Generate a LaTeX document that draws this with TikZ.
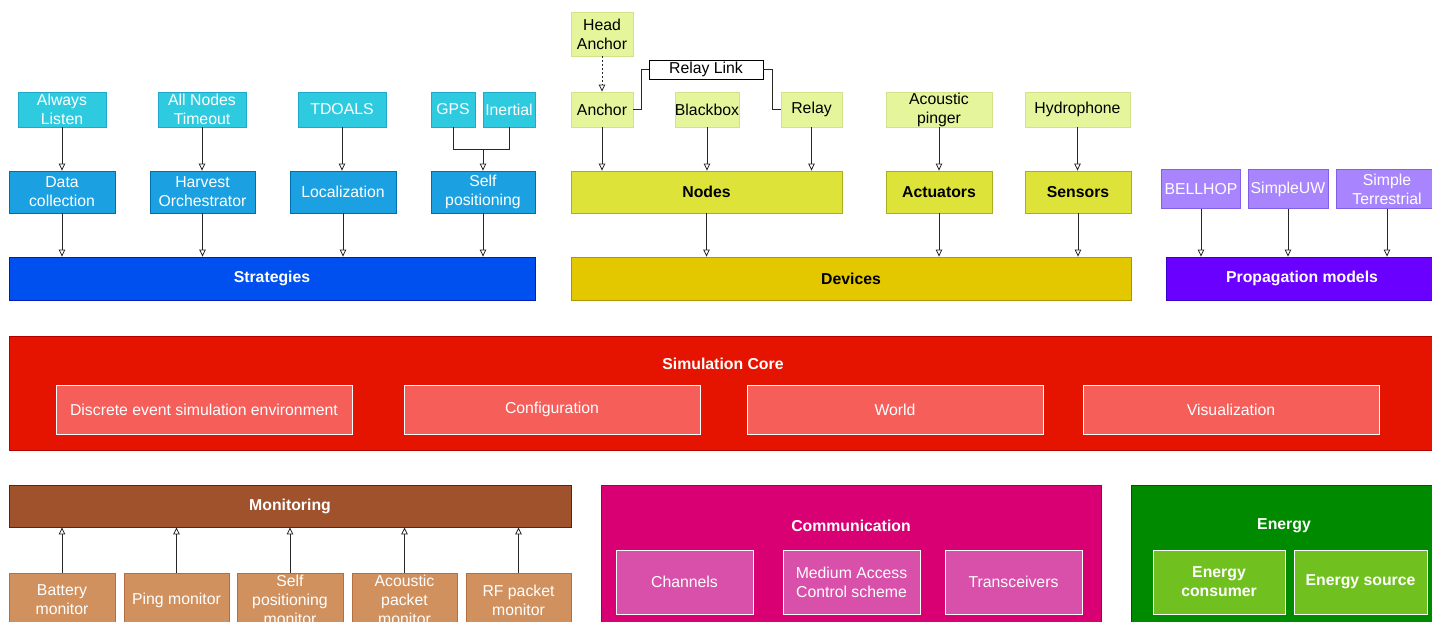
\documentclass[tikz,border=0pt]{standalone}
\usepackage{fontspec}
\setmainfont{Liberation Sans}
\usetikzlibrary{arrows.meta}

\definecolor{cyanl}{RGB}{46,203,224}
\definecolor{cyanb}{RGB}{30,170,200}
\definecolor{bluem}{RGB}{27,161,226}
\definecolor{blueb}{RGB}{0,110,175}
\definecolor{blued}{RGB}{0,80,239}
\definecolor{bluedb}{RGB}{0,29,188}
\definecolor{limel}{RGB}{229,245,155}
\definecolor{limelb}{RGB}{210,225,140}
\definecolor{limem}{RGB}{221,227,56}
\definecolor{limemb}{RGB}{170,175,30}
\definecolor{yeld}{RGB}{227,200,0}
\definecolor{yeldb}{RGB}{176,149,0}
\definecolor{purpl}{RGB}{168,133,255}
\definecolor{purplb}{RGB}{130,95,230}
\definecolor{purpd}{RGB}{106,0,255}
\definecolor{purpdb}{RGB}{55,0,204}
\definecolor{redc}{RGB}{229,20,0}
\definecolor{redcb}{RGB}{178,0,0}
\definecolor{redl}{RGB}{246,94,90}
\definecolor{sienna}{RGB}{160,82,45}
\definecolor{siennab}{RGB}{109,31,0}
\definecolor{tan}{RGB}{208,145,94}
\definecolor{tanb}{RGB}{180,110,64}
\definecolor{magc}{RGB}{216,0,115}
\definecolor{magcb}{RGB}{165,0,64}
\definecolor{magl}{RGB}{216,80,170}
\definecolor{greenc}{RGB}{0,138,0}
\definecolor{greencb}{RGB}{0,87,0}
\definecolor{greenl}{RGB}{112,193,31}

\tikzset{
  box/.style={draw, line width=0.8pt, inner sep=0pt, align=center, font=\fontsize{15.8}{19}\selectfont},
  boldbox/.style={box, font=\fontsize{15.8}{19}\selectfont\bfseries},
  cyanbox/.style={box, fill=cyanl, draw=cyanb, text=white},
  bluebox/.style={box, fill=bluem, draw=blueb, text=white},
  stratbar/.style={boldbox, fill=blued, draw=bluedb, text=white},
  limebox/.style={box, fill=limel, draw=limelb, text=black},
  nodebox/.style={boldbox, fill=limem, draw=limemb, text=black},
  devbar/.style={boldbox, fill=yeld, draw=yeldb, text=black},
  purpbox/.style={box, fill=purpl, draw=purplb, text=white},
  propbar/.style={boldbox, fill=purpd, draw=purpdb, text=white},
  corebox/.style={box, fill=redc, draw=redcb},
  coreitem/.style={box, fill=redl, draw=white, text=white},
  monbar/.style={boldbox, fill=sienna, draw=siennab, text=white},
  monbox/.style={box, fill=tan, draw=tanb, text=white},
  commbox/.style={box, fill=magc, draw=magcb},
  commitem/.style={box, fill=magl, draw=white, text=white},
  enbox/.style={box, fill=greenc, draw=greencb},
  enitem/.style={boldbox, fill=greenl, draw=white, text=white},
  title/.style={font=\fontsize{15.8}{19}\selectfont\bfseries, text=white, inner sep=0pt},
  wire/.style={draw=black!85, line width=0.8pt},
  arr/.style={wire, -{Triangle[open,length=7pt,width=6.5pt]}},
}

\begin{document}
\begin{tikzpicture}[x=1pt, y=-1pt]
		%%%%% START %%%%%
		\useasboundingbox (0,0) rectangle (1432,621);
		\clip (0,0) rectangle (1432,621);
		
		% strategies
		\node[cyanbox, minimum width=88, minimum height=35] (always) at (62,109.5) {Always\\Listen};
		\node[cyanbox, minimum width=88, minimum height=35] (allnodes) at (202,109.5) {All Nodes\\Timeout};
		\node[cyanbox, minimum width=88, minimum height=35] (tdoals) at (342,109.5) {TDOALS};
		\node[cyanbox, minimum width=44, minimum height=35] (gps) at (453,109.5) {GPS};
		\node[cyanbox, minimum width=52, minimum height=35] (inertial) at (509,109.5) {Inertial};
		
		\node[bluebox, minimum width=106, minimum height=42] (datacol) at (62,192) {Data\\collection};
		\node[bluebox, minimum width=105, minimum height=42] (harvest) at (202.5,192) {Harvest\\Orchestrator};
		\node[bluebox, minimum width=106, minimum height=42] (local) at (343,192) {Localization};
		\node[bluebox, minimum width=104, minimum height=42] (selfpos) at (483,192) {Self\\positioning};
		
		\node[stratbar, minimum width=526, minimum height=43] (strategies) at (272,278.5) {Strategies};
		
		\coordinate (gpsjoin) at (483,149);
		\draw[arr] (always) -- (always |- datacol.north);
		\draw[arr] (allnodes) -- (allnodes |- harvest.north);
		\draw[arr] (tdoals) -- (tdoals |- local.north);
		\draw[wire] (gps) |- (gpsjoin);
		\draw[wire] (inertial) |- (gpsjoin);
		\draw[arr] (gpsjoin) -- (selfpos);
		\draw[arr] (datacol) -- (datacol |- strategies.north);
		\draw[arr] (harvest) -- (harvest |- strategies.north);
		\draw[arr] (local) -- (local |- strategies.north);
		\draw[arr] (selfpos) -- (selfpos |- strategies.north);
		
		% devices
		\node[limebox, minimum width=62, minimum height=44] (headanchor) at (602,34) {Head\\Anchor};
		\node[limebox, minimum width=62, minimum height=35] (anchor) at (602,109.5) {Anchor};
		\node[box, fill=white, draw=black, minimum width=114, minimum height=19] (relaylink) at (706,69.5) {Relay Link};
		\node[limebox, minimum width=62, minimum height=35] (blackbox) at (707,109.5) {Blackbox};
		\node[limebox, minimum width=61, minimum height=35] (relay) at (811.5,109.5) {Relay};
		\node[limebox, minimum width=106, minimum height=35] (pinger) at (939,109.5) {Acoustic\\pinger};
		\node[limebox, minimum width=105, minimum height=35] (hydro) at (1077.5,109.5) {Hydrophone};
		
		\node[nodebox, minimum width=271, minimum height=42] (nodes) at (706.5,192) {Nodes};
		\node[nodebox, minimum width=106, minimum height=42] (actuators) at (939,192) {Actuators};
		\node[nodebox, minimum width=106, minimum height=42] (sensors) at (1078,192) {Sensors};
		
		\node[devbar, minimum width=560, minimum height=43] (devices) at (851,278.5) {Devices};
		
		\draw[arr, dash pattern=on 2pt off 2pt] (headanchor) -- (anchor);
		\draw[wire] (anchor.east) -- ++(8,0) |- (relaylink.west);
		\draw[wire] (relaylink.east) -- ++(9,0) |- (relay.west);
		\draw[arr] (anchor) -- (anchor |- nodes.north);
		\draw[arr] (blackbox) -- (blackbox |- nodes.north);
		\draw[arr] (relay) -- (relay |- nodes.north);
		\draw[arr] (pinger) -- (actuators);
		\draw[arr] (hydro) -- (hydro |- sensors.north);
		\draw[arr] (nodes) -- (nodes |- devices.north);
		\draw[arr] (actuators) -- (actuators |- devices.north);
		\draw[arr] (sensors) -- (sensors |- devices.north);
		
		% propagation models
		\node[purpbox, minimum width=79, minimum height=39] (bellhop) at (1201,189) {BELLHOP};
		\node[purpbox, minimum width=80, minimum height=39] (simpleuw) at (1288,189) {SimpleUW};
		\node[purpbox, minimum width=102, minimum height=39] (simpleterr) at (1387,189) {Simple\\Terrestrial};
		\node[propbar, minimum width=272, minimum height=43] (propmodels) at (1302,278.5) {Propagation models};
		
		\draw[arr] (bellhop) -- (bellhop |- propmodels.north);
		\draw[arr] (simpleuw) -- (simpleuw |- propmodels.north);
		\draw[arr] (simpleterr) -- (simpleterr |- propmodels.north);
		
		% simulation core
		\node[corebox, minimum width=1428, minimum height=114] (core) at (723,393) {};
		\node[title] (coretitle) at (723,364) {Simulation Core};
		\node[coreitem, minimum width=296, minimum height=49] (discrete) at (204,409.5) {Discrete event simulation environment};
		\node[coreitem, minimum width=296, minimum height=49] (config) at (552,409.5) {Configuration};
		\node[coreitem, minimum width=296, minimum height=49] (world) at (895,409.5) {World};
		\node[coreitem, minimum width=296, minimum height=49] (visual) at (1231,409.5) {Visualization};
		
		% monitoring
		\node[monbar, minimum width=562, minimum height=42] (monitoring) at (290,506) {Monitoring};
		\node[monbox, minimum width=106, minimum height=54] (battery) at (62,600) {Battery\\monitor};
		\node[monbox, minimum width=105, minimum height=54] (ping) at (176.5,600) {Ping monitor};
		\node[monbox, minimum width=106, minimum height=54] (selfmon) at (290,600) {Self\\positioning\\monitor};
		\node[monbox, minimum width=105, minimum height=54] (acoustic) at (404.5,600) {Acoustic\\packet\\monitor};
		\node[monbox, minimum width=105, minimum height=54] (rfpacket) at (518.5,600) {RF packet\\monitor};
		
		\draw[arr] (battery) -- (battery |- monitoring.south);
		\draw[arr] (ping) -- (ping |- monitoring.south);
		\draw[arr] (selfmon) -- (selfmon |- monitoring.south);
		\draw[arr] (acoustic) -- (acoustic |- monitoring.south);
		\draw[arr] (rfpacket) -- (rfpacket |- monitoring.south);
		
		% communication
		\node[commbox, minimum width=500, minimum height=215] (comm) at (851,592.5) {};
		\node[title] (commtitle) at (851,526) {Communication};
		\node[commitem, minimum width=137, minimum height=64] (channels) at (684.5,582) {Channels};
		\node[commitem, minimum width=137, minimum height=64] (mac) at (851.5,582) {Medium Access\\Control scheme};
		\node[commitem, minimum width=137, minimum height=64] (transceivers) at (1013.5,582) {Transceivers};
		
		% energy
		\node[enbox, minimum width=306, minimum height=215] (energy) at (1284,592.5) {};
		\node[title] (energytitle) at (1284,526) {Energy};
		\node[enitem, minimum width=132, minimum height=64] (consumer) at (1219,582) {Energy\\consumer};
		\node[enitem, minimum width=133, minimum height=64] (source) at (1360.5,582) {Energy source};
		
		%%%%% END %%%%%
	\end{tikzpicture}
\end{document}
